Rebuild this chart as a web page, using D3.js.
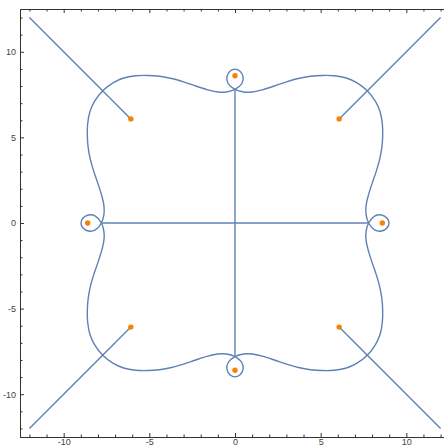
<!DOCTYPE html>
<html lang="en">
<head>
    <meta charset="UTF-8">
    <title>Root locus plot</title>
    <style>
        body { margin: 0; background: #fff; }
        text { font-family: "Liberation Sans", Arial, sans-serif; font-size: 9px; fill: #444; }
        .axis path, .axis line { stroke: #333; }
        .locus { fill: none; stroke: #5e81b5; stroke-width: 1.4px; }
        .pole { fill: #fa8105; }
    </style>
</head>
<body>
    <div id="container"></div>
    <script src="https://d3js.org/d3.v7.min.js"></script>
    <script>
        // closed locus curve (x, y in plot units)
        var curvePoints = [
            [0, 7.8],
            [-0.5, 7.65], [-1, 7.65], [-1.6, 7.78], [-2.3, 8], [-3, 8.24], [-3.7, 8.44], [-4.4, 8.57], [-5.1, 8.62], [-5.8, 8.6], [-6.5, 8.47], [-7.1, 8.2],
            [-7.72, 7.72],
            [-8.2, 7.1], [-8.47, 6.5], [-8.6, 5.8], [-8.62, 5.1], [-8.57, 4.4], [-8.44, 3.7], [-8.24, 3], [-8, 2.3], [-7.78, 1.6], [-7.65, 1], [-7.65, 0.5],
            [-7.8, 0],
            [-8.15, -0.4], [-8.55, -0.47], [-8.88, -0.28], [-8.99, 0], [-8.88, 0.28], [-8.55, 0.47], [-8.15, 0.4],
            [-7.8, 0],
            [-7.65, -0.5], [-7.65, -1], [-7.78, -1.6], [-8, -2.3], [-8.24, -3], [-8.44, -3.7], [-8.57, -4.4], [-8.62, -5.1], [-8.6, -5.8], [-8.47, -6.5], [-8.2, -7.1],
            [-7.72, -7.72],
            [-7.1, -8.2], [-6.5, -8.47], [-5.8, -8.6], [-5.1, -8.62], [-4.4, -8.57], [-3.7, -8.44], [-3, -8.24], [-2.3, -8], [-1.6, -7.78], [-1, -7.65], [-0.5, -7.65],
            [0, -7.8],
            [0.4, -8.15], [0.47, -8.55], [0.28, -8.88], [0, -8.99], [-0.28, -8.88], [-0.47, -8.55], [-0.4, -8.15],
            [0, -7.8],
            [0.5, -7.65], [1, -7.65], [1.6, -7.78], [2.3, -8], [3, -8.24], [3.7, -8.44], [4.4, -8.57], [5.1, -8.62], [5.8, -8.6], [6.5, -8.47], [7.1, -8.2],
            [7.72, -7.72],
            [8.2, -7.1], [8.47, -6.5], [8.6, -5.8], [8.62, -5.1], [8.57, -4.4], [8.44, -3.7], [8.24, -3], [8, -2.3], [7.78, -1.6], [7.65, -1], [7.65, -0.5],
            [7.8, 0],
            [8.15, 0.4], [8.55, 0.47], [8.88, 0.28], [8.99, 0], [8.88, -0.28], [8.55, -0.47], [8.15, -0.4],
            [7.8, 0],
            [7.65, 0.5], [7.65, 1], [7.78, 1.6], [8, 2.3], [8.24, 3], [8.44, 3.7], [8.57, 4.4], [8.62, 5.1], [8.6, 5.8], [8.47, 6.5], [8.2, 7.1],
            [7.72, 7.72],
            [7.1, 8.2], [6.5, 8.47], [5.8, 8.6], [5.1, 8.62], [4.4, 8.57], [3.7, 8.44], [3, 8.24], [2.3, 8], [1.6, 7.78], [1, 7.65], [0.5, 7.65],
            [0, 7.8],
            [-0.4, 8.15], [-0.47, 8.55], [-0.28, 8.88], [0, 8.99], [0.28, 8.88], [0.47, 8.55], [0.4, 8.15]
        ];

        // straight branches: [start, end]
        var segments = [
            [[-7.8, 0], [7.8, 0]],
            [[0, -7.8], [0, 7.8]],
            [[-6.08, 6.08], [-12, 12]],
            [[6.08, 6.08], [12, 12]],
            [[-6.08, -6.08], [-12, -12]],
            [[6.08, -6.08], [12, -12]]
        ];

        // orange points
        var poles = [
            [0, 8.6], [0, -8.6], [-8.6, 0], [8.6, 0],
            [-6.08, 6.08], [6.08, 6.08], [-6.08, -6.08], [6.08, -6.08]
        ];

        var majorTicks = [-10, -5, 0, 5, 10];
        var minorTicks = [-12, -11, -9, -8, -7, -6, -4, -3, -2, -1, 1, 2, 3, 4, 6, 7, 8, 9, 11, 12];

        var width = 444, height = 446;
        var plot = { left: 20, right: 450, top: 9, bottom: 437 };

        var svg = d3.select("#container").append("svg")
            .attr("width", width)
            .attr("height", height);

        var x = d3.scaleLinear().domain([-12.55, 12.55]).range([plot.left, plot.right]);
        var y = d3.scaleLinear().domain([-12.5, 12.5]).range([plot.bottom, plot.top]);

        var fmt = function (d) { return d < 0 ? "-" + Math.abs(d) : String(d); };

        // frame: four axes, ticks pointing inward
        function frameAxis(axisFn, scale, transform, labels, pad) {
            svg.append("g").attr("class", "axis").attr("transform", transform)
                .call(axisFn(scale).tickValues(minorTicks).tickSize(-2.5).tickSizeOuter(0).tickFormat(""));
            svg.append("g").attr("class", "axis").attr("transform", transform)
                .call(axisFn(scale).tickValues(majorTicks).tickSize(-4).tickSizeOuter(0).tickPadding(pad)
                    .tickFormat(labels ? fmt : ""))
                .selectAll("text").style("fill", "#444").style("font-size", "9px");
        }

        frameAxis(d3.axisBottom, x, "translate(0," + plot.bottom + ")", true, 1.5);
        frameAxis(d3.axisTop, x, "translate(0," + plot.top + ")", false, 3);
        frameAxis(d3.axisLeft, y, "translate(" + plot.left + ",0)", true, 4);
        frameAxis(d3.axisRight, y, "translate(" + plot.right + ",0)", false, 3);

        var line = d3.line()
            .x(function (d) { return x(d[0]); })
            .y(function (d) { return y(d[1]); });

        svg.append("g").selectAll("path")
            .data(segments)
            .enter().append("path")
            .attr("class", "locus")
            .attr("d", line);

        svg.append("path")
            .attr("class", "locus")
            .attr("d", line.curve(d3.curveCatmullRomClosed.alpha(0.5))(curvePoints));

        svg.append("g").selectAll("circle")
            .data(poles)
            .enter().append("circle")
            .attr("class", "pole")
            .attr("r", 2.7)
            .attr("cx", function (d) { return x(d[0]); })
            .attr("cy", function (d) { return y(d[1]); });
    </script>
</body>
</html>
